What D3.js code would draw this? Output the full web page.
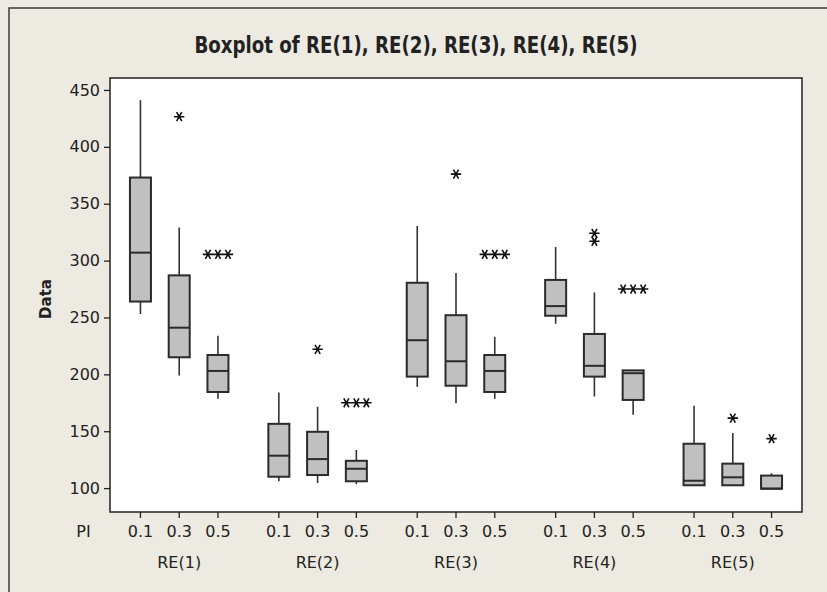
<!DOCTYPE html>
<html>
<head>
<meta charset="utf-8">
<script src="https://cdn.jsdelivr.net/npm/d3@7"></script>
<style>
  body { margin: 0; background: #edeae1; }
  text { font-family: "DejaVu Sans", Tahoma, sans-serif; fill: #222; }
</style>
</head>
<body>
<div id="chart"></div>
<script>
// Data
const groups = ["RE(1)", "RE(2)", "RE(3)", "RE(4)", "RE(5)"];
const piLevels = ["0.1", "0.3", "0.5"];

// one entry per box, order: RE(1) 0.1, 0.3, 0.5, RE(2) 0.1 ...
const whiskerLow  = [253, 199, 178.5,  106, 104.5, 103.5,  189, 174.5, 178.5,  244.5, 180.5, 164.5,  102.5, 102.5, 99.5];
const q1          = [264, 215, 184.5,  110, 111.5, 106,    198, 190,   184.5,  251.5, 198,   177.5,  102.5, 102.5, 99.5];
const medians     = [307, 241, 203,    128.5, 125.5, 117,  230, 211.5, 203,    260,   207.5, 201,    106.5, 109.5, 99.5];
const q3          = [373, 287, 217,    156.5, 149.5, 124,  280.5, 252, 217,    283,   235.5, 203.5,  139,   121.5, 111];
const whiskerHigh = [441, 329, 234,    184, 171.5, 133.5,  330.5, 289, 233,    312,   272,   203.5,  172.5, 148.5, 113];
const outliers = [
  [], [426.5], [305.5, 305.5, 305.5],
  [], [222], [175, 175, 175],
  [], [376], [305.5, 305.5, 305.5],
  [], [324, 317], [275, 275, 275],
  [], [161.5], [143.5]
];

document.addEventListener('DOMContentLoaded', function() {
    const W = 827, H = 592;
    const margin = {top: 78, right: 25, bottom: 80, left: 110};
    const width = W - margin.left - margin.right;
    const height = H - margin.top - margin.bottom;

    const root = d3.select("#chart")
        .append("svg")
        .attr("width", W)
        .attr("height", H);

    // background + window frame (only left/top visible)
    root.append("rect")
        .attr("width", W).attr("height", H)
        .attr("fill", "#edeae1");
    root.append("rect")
        .attr("x", 9).attr("y", 8)
        .attr("width", W + 20).attr("height", H + 20)
        .attr("fill", "none")
        .attr("stroke", "#3a3a3a")
        .attr("stroke-width", 1.5);

    // title
    root.append("text")
        .attr("x", 416)
        .attr("y", 53)
        .attr("text-anchor", "middle")
        .attr("textLength", 443)
        .attr("lengthAdjust", "spacingAndGlyphs")
        .style("font-family", "'Liberation Sans Narrow', 'DejaVu Sans Condensed', 'Arial Narrow', sans-serif")
        .style("font-size", "23px")
        .style("font-weight", "bold")
        .text("Boxplot of RE(1), RE(2), RE(3), RE(4), RE(5)");

    const svg = root.append("g")
        .attr("transform", `translate(${margin.left},${margin.top})`);

    // plot area
    svg.append("rect")
        .attr("width", width).attr("height", height)
        .attr("fill", "#fff");

    // scales
    const x0 = d3.scaleBand()
        .domain(groups)
        .range([0, width])
        .paddingInner(0.44)
        .paddingOuter(0.22);
    const x1 = d3.scalePoint()
        .domain(piLevels)
        .range([0, x0.bandwidth()]);
    const y = d3.scaleLinear()
        .domain([79, 460.5])
        .range([height, 0]);

    // y axis
    const yAxis = svg.append("g")
        .call(d3.axisLeft(y).tickValues(d3.range(100, 451, 50)).tickSize(6).tickPadding(4));
    yAxis.select(".domain").remove();
    yAxis.selectAll(".tick line").attr("stroke", "#222").attr("stroke-width", 1.3);
    yAxis.selectAll(".tick text")
        .style("font-size", "16px")
        .style("font-family", "'DejaVu Sans', Tahoma, sans-serif")
        .attr("fill", "#1a1a1a");

    svg.append("text")
        .attr("transform", "rotate(-90)")
        .attr("x", -height / 2 - 4)
        .attr("y", 46 - margin.left + 5)
        .attr("text-anchor", "middle")
        .style("font-size", "15px")
        .style("font-weight", "bold")
        .text("Data");

    // build flat box list
    const boxes = [];
    groups.forEach((g, gi) => {
        piLevels.forEach((p, pi) => {
            const i = gi * piLevels.length + pi;
            boxes.push({
                group: g, pi: p,
                x: x0(g) + x1(p),
                lo: whiskerLow[i], q1: q1[i], med: medians[i], q3: q3[i], hi: whiskerHigh[i],
                out: outliers[i]
            });
        });
    });

    // x ticks and labels
    const xAxis = svg.append("g").attr("transform", `translate(0,${height})`);
    xAxis.selectAll(".xtick")
        .data(boxes)
        .enter()
        .append("line")
        .attr("x1", d => d.x).attr("x2", d => d.x)
        .attr("y1", 0).attr("y2", 6)
        .attr("stroke", "#222").attr("stroke-width", 1.3);
    xAxis.selectAll(".xlab")
        .data(boxes)
        .enter()
        .append("text")
        .attr("x", d => d.x)
        .attr("y", 25)
        .attr("text-anchor", "middle")
        .style("font-size", "16px")
        .text(d => d.pi);
    xAxis.selectAll(".glab")
        .data(groups)
        .enter()
        .append("text")
        .attr("x", d => x0(d) + x0.bandwidth() / 2)
        .attr("y", 56)
        .attr("text-anchor", "middle")
        .style("font-size", "16px")
        .text(d => d);
    xAxis.append("text")
        .attr("x", 83.5 - margin.left)
        .attr("y", 25)
        .attr("text-anchor", "middle")
        .style("font-size", "16px")
        .text("PI");

    // boxes
    const boxW = 21;
    const bx = svg.selectAll(".box")
        .data(boxes)
        .enter()
        .append("g")
        .attr("class", "box");

    bx.append("line")
        .attr("x1", d => d.x).attr("x2", d => d.x)
        .attr("y1", d => y(d.hi)).attr("y2", d => y(d.q3))
        .attr("stroke", "#333").attr("stroke-width", 1.6);
    bx.append("line")
        .attr("x1", d => d.x).attr("x2", d => d.x)
        .attr("y1", d => y(d.q1)).attr("y2", d => y(d.lo))
        .attr("stroke", "#333").attr("stroke-width", 1.6);
    bx.append("rect")
        .attr("x", d => d.x - boxW / 2)
        .attr("width", boxW)
        .attr("y", d => y(d.q3))
        .attr("height", d => y(d.q1) - y(d.q3))
        .attr("fill", "#c0c0c0")
        .attr("stroke", "#2b2b2b")
        .attr("stroke-width", 2);
    bx.append("line")
        .attr("x1", d => d.x - boxW / 2).attr("x2", d => d.x + boxW / 2)
        .attr("y1", d => y(d.med)).attr("y2", d => y(d.med))
        .attr("stroke", "#2b2b2b").attr("stroke-width", 2);

    // outliers, tied values are spread sideways like Minitab does
    const star = d3.symbol().type(d3.symbolAsterisk).size(75);
    bx.each(function(d) {
        const counts = d3.rollup(d.out, v => v.length, v => v);
        const seen = new Map();
        d.out.forEach(v => {
            const n = counts.get(v);
            const k = seen.get(v) || 0;
            seen.set(v, k + 1);
            const dx = (k - (n - 1) / 2) * 10;
            d3.select(this).append("path")
                .attr("d", star)
                .attr("transform", `translate(${d.x + dx},${y(v)}) rotate(90)`)
                .attr("fill", "none")
                .attr("stroke", "#111")
                .attr("stroke-width", 1.6);
        });
    });

    // plot frame
    svg.append("rect")
        .attr("width", width).attr("height", height)
        .attr("fill", "none")
        .attr("stroke", "#222")
        .attr("stroke-width", 1.5);
});
</script>
</body>
</html>
